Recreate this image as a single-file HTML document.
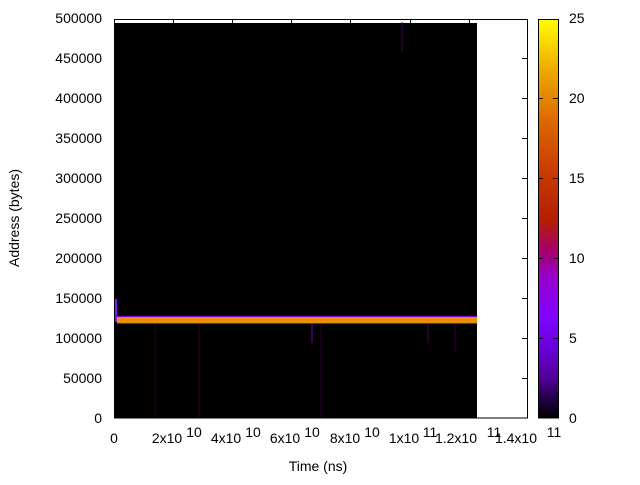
<!DOCTYPE html>
<html><head><style>
body{margin:0;background:#fff;}
svg text{font-family:"Liberation Sans",sans-serif;font-size:14px;fill:#000}
</style></head><body>
<svg width="640" height="480" xmlns="http://www.w3.org/2000/svg">
<defs>
<linearGradient id="cb" x1="0" y1="1" x2="0" y2="0">
<stop offset="0" stop-color="#000000"/>
<stop offset="0.05" stop-color="#24004a"/>
<stop offset="0.1" stop-color="#510096"/>
<stop offset="0.175" stop-color="#6a00d8"/>
<stop offset="0.25" stop-color="#8004ff"/>
<stop offset="0.35" stop-color="#9700d0"/>
<stop offset="0.42" stop-color="#a6006a"/>
<stop offset="0.5" stop-color="#b42000"/>
<stop offset="0.62" stop-color="#c93c00"/>
<stop offset="0.75" stop-color="#dd6b00"/>
<stop offset="0.87" stop-color="#eea800"/>
<stop offset="1" stop-color="#ffff00"/>
</linearGradient>
</defs>
<rect x="114" y="23" width="363" height="395" fill="#000"/>
<rect x="117" y="316" width="360" height="8" fill="#7a00d0"/>
<rect x="117" y="317" width="360" height="6" fill="#e8900a"/>
<rect x="115" y="298" width="2" height="24" fill="#8a10ff"/>
<line x1="312" y1="324" x2="312" y2="343" stroke="#6a00c0" stroke-width="1"/>
<line x1="402" y1="22" x2="402" y2="52" stroke="#3a0060" stroke-width="1"/>
<line x1="199" y1="324" x2="199" y2="418" stroke="#3a0030" stroke-width="1"/>
<line x1="321" y1="324" x2="321" y2="418" stroke="#2a0030" stroke-width="1"/>
<line x1="155" y1="324" x2="155" y2="418" stroke="#2a0020" stroke-width="1"/>
<line x1="428" y1="324" x2="428" y2="343" stroke="#4a0050" stroke-width="1"/>
<line x1="455" y1="324" x2="455" y2="353" stroke="#3a0040" stroke-width="1"/>
<rect x="114.5" y="19.5" width="413" height="398.5" fill="none" stroke="#000" stroke-width="1"/>
<g stroke="#000" stroke-width="1">
<path d="M173.5,418v-6M232.5,418v-6M291.5,418v-6M350.5,418v-6M410.5,418v-6M469.5,418v-6M173.5,19v6M232.5,19v6M291.5,19v6M350.5,19v6M410.5,19v6M469.5,19v6"/>
<path d="M114,378.5h6M114,338.5h6M114,298.5h6M114,258.5h6M114,218.5h6M114,178.5h6M114,138.5h6M114,98.5h6M114,58.5h6M528,378.5h-6M528,338.5h-6M528,298.5h-6M528,258.5h-6M528,218.5h-6M528,178.5h-6M528,138.5h-6M528,98.5h-6M528,58.5h-6"/>
</g>
<g text-anchor="end">
<text x="102" y="423">0</text><text x="102" y="383">50000</text><text x="102" y="343">100000</text>
<text x="102" y="303">150000</text><text x="102" y="263">200000</text><text x="102" y="223">250000</text>
<text x="102" y="183">300000</text><text x="102" y="143">350000</text><text x="102" y="103">400000</text>
<text x="102" y="63">450000</text><text x="102" y="23">500000</text>
</g>
<g text-anchor="middle">
<text x="114" y="443">0</text>
<text x="167" y="443">2x10</text><text x="194" y="437">10</text>
<text x="226" y="443">4x10</text><text x="253" y="437">10</text>
<text x="285" y="443">6x10</text><text x="312" y="437">10</text>
<text x="345" y="443">8x10</text><text x="372" y="437">10</text>
<text x="404" y="443">1x10</text><text x="430" y="437">11</text>
<text x="456" y="443">1.2x10</text><text x="494" y="437">11</text>
<text x="516" y="443">1.4x10</text><text x="554" y="437">11</text>
<text x="318" y="471">Time (ns)</text>
</g>
<text transform="translate(19,218) rotate(-90)" text-anchor="middle">Address (bytes)</text>
<rect x="538" y="19" width="20" height="399" fill="url(#cb)"/>
<rect x="538.5" y="19.5" width="20" height="398.5" fill="none" stroke="#000" stroke-width="1"/>
<g stroke="#000" stroke-width="1">
<path d="M558,338.5h-5M558,258.5h-5M558,178.5h-5M558,98.5h-5M538,338.5h5M538,258.5h5M538,178.5h5M538,98.5h5"/>
</g>
<g text-anchor="start">
<text x="569" y="423">0</text><text x="569" y="343">5</text><text x="569" y="263">10</text>
<text x="569" y="183">15</text><text x="569" y="103">20</text><text x="569" y="23">25</text>
</g>
</svg>
</body></html>
